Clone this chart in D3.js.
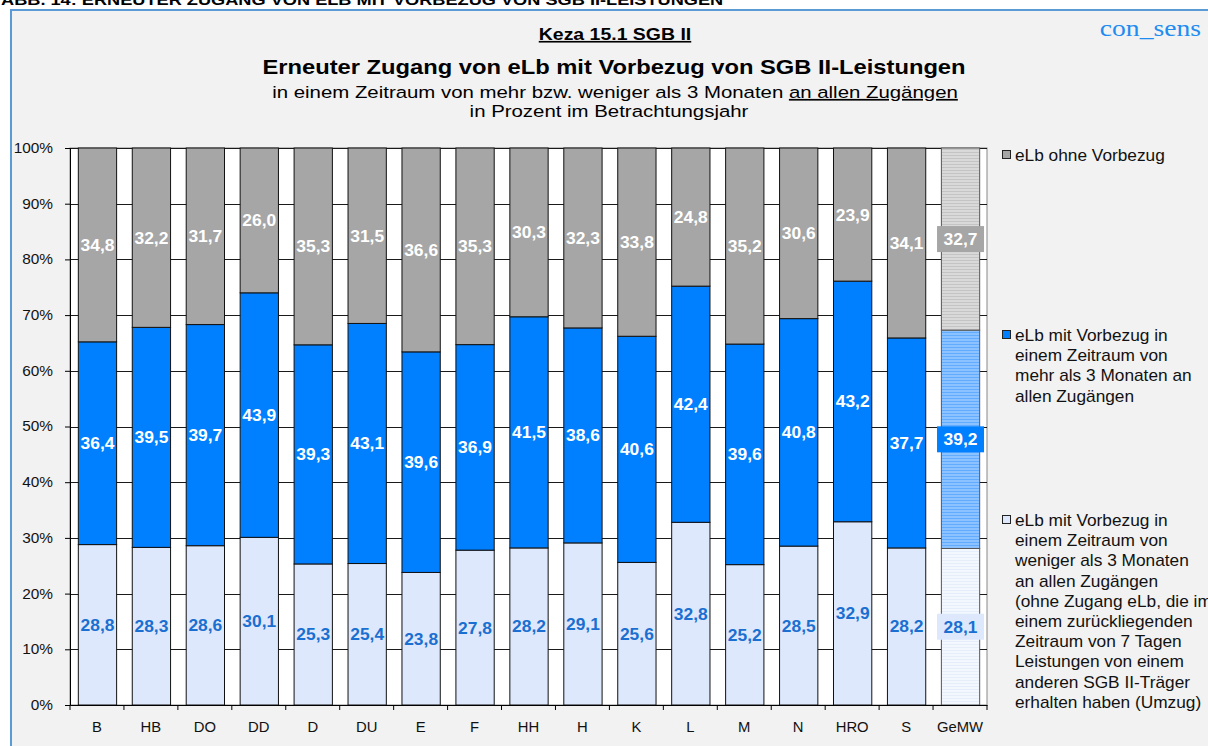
<!DOCTYPE html>
<html>
<head>
<meta charset="utf-8">
<script src="https://cdn.jsdelivr.net/npm/d3@7"></script>
<style>
  body { margin: 0; background: #fff; }
  svg { display: block; font-family: "Liberation Sans", Arial, sans-serif; }
</style>
</head>
<body>
<svg id="chart" width="1208" height="746"></svg>
<script>
const categories = ['B', 'HB', 'DO', 'DD', 'D', 'DU', 'E', 'F', 'HH', 'H', 'K', 'L', 'M', 'N', 'HRO', 'S', 'GeMW'];
const weniger = [28.8, 28.3, 28.6, 30.1, 25.3, 25.4, 23.8, 27.8, 28.2, 29.1, 25.6, 32.8, 25.2, 28.5, 32.9, 28.2, 28.1];
const mehr = [36.4, 39.5, 39.7, 43.9, 39.3, 43.1, 39.6, 36.9, 41.5, 38.6, 40.6, 42.4, 39.6, 40.8, 43.2, 37.7, 39.2];
const ohne = [34.8, 32.2, 31.7, 26.0, 35.3, 31.5, 36.6, 35.3, 30.3, 32.3, 33.8, 24.8, 35.2, 30.6, 23.9, 34.1, 32.7];
const yTicks = [0, 0.1, 0.2, 0.3, 0.4, 0.5, 0.6, 0.7, 0.8, 0.9, 1];
const seriesKeys = ['weniger', 'mehr', 'ohne'];
const legendLines = {
  ohne: ['eLb ohne Vorbezug'],
  mehr: ['eLb mit Vorbezug in', 'einem Zeitraum von', 'mehr als 3 Monaten an', 'allen Zugängen'],
  weniger: ['eLb mit Vorbezug in', 'einem Zeitraum von', 'weniger als 3 Monaten', 'an allen  Zugängen', '(ohne Zugang eLb, die im', 'einem zurückliegenden', 'Zeitraum von 7 Tagen', 'Leistungen von einem', 'anderen SGB II-Träger', 'erhalten haben (Umzug)']
};

const colours = { weniger: '#dde8fc', mehr: '#007fff', ohne: '#a6a6a6' };
const labelColours = { weniger: '#1a6fd0', mehr: '#fff', ohne: '#fff' };

const rows = categories.map((c, i) => ({ cat: c, weniger: weniger[i], mehr: mehr[i], ohne: ohne[i] }));

const svg = d3.select('#chart');

// text in the original is a bit wider than Arial, so stretch it horizontally
function label(parent, x, y, size, sx, anchor) {
  return parent.append('text')
    .attr('transform', `translate(${x},${y}) scale(${sx},1)`)
    .attr('font-size', size)
    .attr('text-anchor', anchor || 'start');
}

// frame
label(svg, 1, 5, 14, 1.3).attr('font-weight', 'bold')
  .text('ABB. 14:  ERNEUTER ZUGANG VON ELB MIT VORBEZUG VON SGB II-LEISTUNGEN');
svg.append('rect')
  .attr('x', 11).attr('y', 10).attr('width', 1220).attr('height', 760)
  .attr('fill', '#f2f2f2').attr('stroke', '#5b9bd5').attr('stroke-width', 2);

// striped patterns for GeMW
const defs = svg.append('defs');
function stripes(id, base, line) {
  const p = defs.append('pattern').attr('id', id)
    .attr('patternUnits', 'userSpaceOnUse').attr('width', 6).attr('height', 3);
  p.append('rect').attr('width', 6).attr('height', 3).attr('fill', base);
  p.append('rect').attr('y', 2).attr('width', 6).attr('height', 1).attr('fill', line);
}
stripes('st-ohne', '#d9d9d9', '#c4c4c4');
stripes('st-mehr', '#8cc2ff', '#62acff');
stripes('st-weniger', '#f3f7fe', '#e6eefc');

// titles
label(svg, 615, 40, 16.5, 1.18, 'middle')
  .attr('font-weight', 'bold').attr('text-decoration', 'underline')
  .text('Keza 15.1 SGB II');
label(svg, 614, 74, 21, 1.13, 'middle').attr('font-weight', 'bold')
  .text('Erneuter Zugang von eLb mit Vorbezug von SGB II-Leistungen');
const sub = label(svg, 615, 98, 17, 1.2, 'middle');
sub.append('tspan').text('in einem Zeitraum von mehr bzw. weniger als 3 Monaten ');
sub.append('tspan').attr('text-decoration', 'underline').text('an allen Zugängen');
label(svg, 609, 117, 17, 1.2, 'middle').text('in Prozent im Betrachtungsjahr');
label(svg, 1201, 36, 24, 1.15, 'end')
  .attr('font-family', '"Liberation Serif", "Times New Roman", serif')
  .attr('fill', '#1e8cf0').text('con_sens');

// plot
const plotLeft = 70, plotRight = 987, plotTop = 148, plotBottom = 705;
const x = d3.scaleBand().domain(categories).range([plotLeft, plotRight]).paddingInner(0.29).paddingOuter(0.145);
const y = d3.scaleLinear().domain([0, 1]).range([plotBottom, plotTop]);

svg.append('rect').attr('x', plotLeft).attr('y', plotTop).attr('width', plotRight - plotLeft).attr('height', plotBottom - plotTop)
  .attr('fill', '#fff').attr('stroke', '#888');

svg.append('g').selectAll('line').data(yTicks.slice(1)).join('line')
  .attr('x1', plotLeft).attr('x2', plotRight)
  .attr('y1', d => Math.round(y(d)) + 0.5).attr('y2', d => Math.round(y(d)) + 0.5)
  .attr('stroke', '#1a1a1a');

const stack = d3.stack().keys(seriesKeys).offset(d3.stackOffsetExpand);
const series = stack(rows);

const g = svg.append('g');
series.forEach(s => {
  g.append('g').selectAll('rect').data(s).join('rect')
    .attr('x', d => x(d.data.cat) + 0.5)
    .attr('y', d => y(d[1]))
    .attr('width', x.bandwidth())
    .attr('height', d => y(d[0]) - y(d[1]))
    .attr('fill', d => d.data.cat === 'GeMW' ? `url(#st-${s.key})` : colours[s.key])
    .attr('stroke', d => d.data.cat === 'GeMW' ? '#555' : '#111')
    .attr('stroke-width', 1);
});

// value labels
const fmt = v => d3.format('.1f')(v).replace('.', ',');
series.forEach(s => {
  s.forEach(d => {
    const cx = x(d.data.cat) + x.bandwidth() / 2 + 0.5;
    const cy = (y(d[0]) + y(d[1])) / 2;
    if (d.data.cat === 'GeMW') {
      g.append('rect').attr('x', cx - 23.5).attr('y', cy - 13).attr('width', 47).attr('height', 26)
        .attr('fill', colours[s.key]);
    }
    label(g, cx, cy + 6, 16, 1.09, 'middle')
      .attr('font-weight', 'bold')
      .attr('fill', labelColours[s.key])
      .text(fmt(d.data[s.key]));
  });
});

// axes
const yAxis = svg.append('g').attr('transform', `translate(${plotLeft},0)`)
  .call(d3.axisLeft(y).tickValues(yTicks).tickFormat(d3.format('.0%')).tickSize(5));
yAxis.select('.domain').attr('stroke', '#000');
yAxis.selectAll('text')
  .attr('font-size', 14).attr('fill', '#111').attr('font-family', '"Liberation Sans", Arial, sans-serif')
  .attr('x', -17 / 1.1).attr('transform', 'scale(1.1,1)');

const xAxis = svg.append('g').attr('transform', `translate(0,${plotBottom})`)
  .call(d3.axisBottom(x).tickSize(0).tickPadding(17));
xAxis.select('.domain').attr('stroke', '#000');
xAxis.selectAll('.tick text')
  .attr('font-size', 14).attr('fill', '#111').attr('font-family', '"Liberation Sans", Arial, sans-serif')
  .attr('transform', 'scale(1.06,1)');
const step = x.step();
xAxis.selectAll('line.sep').data(d3.range(categories.length + 1)).join('line')
  .attr('class', 'sep')
  .attr('x1', i => plotLeft + i * step).attr('x2', i => plotLeft + i * step)
  .attr('y1', 0).attr('y2', 5).attr('stroke', '#000');

// legend
const legendY = { ohne: 156, mehr: 336, weniger: 521 };
const lg = svg.append('g');
['ohne', 'mehr', 'weniger'].forEach(k => {
  const y0 = legendY[k];
  lg.append('rect').attr('x', 1002.5).attr('y', y0 - 5.5).attr('width', 8).attr('height', 8)
    .attr('fill', colours[k]).attr('stroke', '#222');
  label(lg, 1015, y0 + 5, 16, 1.08).attr('fill', '#111')
    .selectAll('tspan').data(legendLines[k]).join('tspan')
    .attr('x', 0).attr('dy', (d, i) => i === 0 ? 0 : 20.2)
    .text(d => d);
});
</script>
</body>
</html>
